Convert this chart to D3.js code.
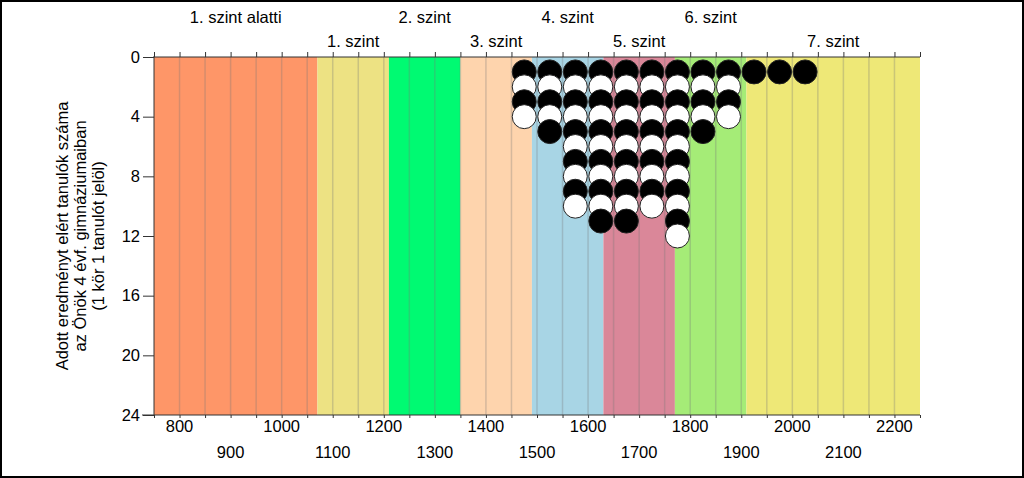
<!DOCTYPE html>
<html>
<head>
<meta charset="utf-8">
<script src="https://cdn.jsdelivr.net/npm/d3@7"></script>
<style>
  body { margin: 0; background: #fff; }
  svg { display: block; font-family: "Liberation Sans", Arial, sans-serif; }
</style>
</head>
<body>
<svg id="graphic-svg" width="1024" height="478"></svg>
<script>
// Data
var bandEdges = [750, 1070, 1210, 1350, 1490, 1630, 1770, 1910, 2250];
var levelNames = ["1. szint alatti", "1. szint", "2. szint", "3. szint", "4. szint", "5. szint", "6. szint", "7. szint"];
var binCenters = [1475, 1525, 1575, 1625, 1675, 1725, 1775, 1825, 1875, 1925, 1975, 2025];
var binCounts = [4, 5, 10, 11, 11, 10, 12, 5, 4, 1, 1, 1];
var xTicks = [800, 900, 1000, 1100, 1200, 1300, 1400, 1500, 1600, 1700, 1800, 1900, 2000, 2100, 2200];
var yTicks = [0, 4, 8, 12, 16, 20, 24];
var yTitle = ["Adott eredményt elért tanulók száma", "az Önök 4 évf. gimnáziumaiban", "(1 kör 1 tanulót jelöl)"];

// Colors
var bandColors = ["#fe9668", "#ede283", "#00fa72", "#fed4ad", "#a8d5e5", "#da8799", "#a5ec77", "#eee877"];

var svg = d3.select("#graphic-svg");
var m_left = 154, m_right = 920, m_top = 57, m_bottom = 415;
var fontSize = "16.5px";

var xScale = d3.scaleLinear().domain([750, 2250]).range([m_left, m_right]);
var yScale = d3.scaleLinear().domain([0, 24]).range([m_top, m_bottom]);

// Bands
var bands = bandColors.map(function(c, i) {
  return { from: bandEdges[i], to: bandEdges[i + 1], color: c, name: levelNames[i], idx: i };
});
svg.selectAll(".band")
   .data(bands)
   .enter()
   .append("rect")
   .attr("class", "band")
   .attr("x", function(d) { return xScale(d.from); })
   .attr("y", m_top)
   .attr("width", function(d) { return xScale(d.to) - xScale(d.from); })
   .attr("height", m_bottom - m_top)
   .style("fill", function(d) { return d.color; });

// Gridlines every 50
var gridVals = d3.range(800, 2250, 50);
svg.selectAll(".grid")
   .data(gridVals)
   .enter()
   .append("line")
   .attr("class", "grid")
   .attr("x1", function(d) { return xScale(d); })
   .attr("x2", function(d) { return xScale(d); })
   .attr("y1", m_top)
   .attr("y2", m_bottom)
   .style("stroke", "rgba(120,120,120,0.3)")
   .style("stroke-width", 1.5);

// Level labels on top, two rows alternating
svg.selectAll(".levelLabel")
   .data(bands)
   .enter()
   .append("text")
   .attr("class", "levelLabel")
   .attr("x", function(d) { return xScale((d.from + d.to) / 2); })
   .attr("y", function(d) { return d.idx % 2 == 0 ? 17 : 41; })
   .attr("text-anchor", "middle")
   .attr("dominant-baseline", "central")
   .style("font-size", fontSize)
   .text(function(d) { return d.name; });

// Dots
var dots = [];
binCenters.forEach(function(c, i) {
  for (var k = 1; k <= binCounts[i]; k++) {
    dots.push({ x: c, k: k });
  }
});
svg.selectAll(".dot")
   .data(dots)
   .enter()
   .append("circle")
   .attr("class", "dot")
   .attr("cx", function(d) { return xScale(d.x); })
   .attr("cy", function(d) { return yScale(d.k); })
   .attr("r", 12)
   .style("fill", function(d) { return d.k % 2 == 1 ? "#000" : "#fff"; })
   .style("stroke", "#222")
   .style("stroke-width", 1);

// Axes
var axisColor = "#333";
var topAxis = svg.append("g")
   .attr("transform", "translate(0," + m_top + ")")
   .call(d3.axisTop(xScale).tickValues(d3.range(750, 2251, 50)).tickSize(5).tickFormat(""));
topAxis.select(".domain").attr("stroke", axisColor).attr("d", "M" + m_left + ",0H" + m_right);
topAxis.selectAll(".tick line").attr("stroke", axisColor);

var bottomAxis = svg.append("g")
   .attr("transform", "translate(0," + m_bottom + ")")
   .call(d3.axisBottom(xScale).tickValues(d3.range(750, 2251, 50)).tickSize(3).tickFormat(""));
bottomAxis.select(".domain").attr("stroke", axisColor).attr("d", "M" + (m_left - 12) + ",0H" + m_right);
bottomAxis.selectAll(".tick line").attr("stroke", axisColor);

svg.selectAll(".xLabel")
   .data(xTicks)
   .enter()
   .append("text")
   .attr("class", "xLabel")
   .attr("x", function(d) { return xScale(d); })
   .attr("y", function(d, i) { return i % 2 == 0 ? 426 : 452; })
   .attr("text-anchor", "middle")
   .attr("dominant-baseline", "central")
   .style("font-size", fontSize)
   .text(function(d) { return d; });

var leftAxis = svg.append("g")
   .attr("transform", "translate(" + m_left + ",0)")
   .call(d3.axisLeft(yScale).tickValues(yTicks).tickSize(11).tickPadding(3));
leftAxis.select(".domain").attr("stroke", axisColor).attr("d", "M0," + (m_top - 1) + "V" + m_bottom);
leftAxis.selectAll(".tick line").attr("stroke", axisColor);
leftAxis.selectAll(".tick text")
   .style("font-size", fontSize)
   .style("font-family", "'Liberation Sans', Arial, sans-serif")
   .attr("fill", "#000");

// Y title
var yTitleG = svg.append("g").attr("transform", "translate(80," + ((m_top + m_bottom) / 2) + ") rotate(-90)");
yTitleG.selectAll("text")
   .data(yTitle)
   .enter()
   .append("text")
   .attr("x", 0)
   .attr("y", function(d, i) { return (i - 1) * 18; })
   .attr("text-anchor", "middle")
   .attr("dominant-baseline", "central")
   .style("font-size", fontSize)
   .text(function(d) { return d; });

// Frame
svg.append("rect")
   .attr("x", 1).attr("y", 1)
   .attr("width", 1022).attr("height", 476)
   .style("fill", "none")
   .style("stroke", "#000")
   .style("stroke-width", 2);
</script>
</body>
</html>
